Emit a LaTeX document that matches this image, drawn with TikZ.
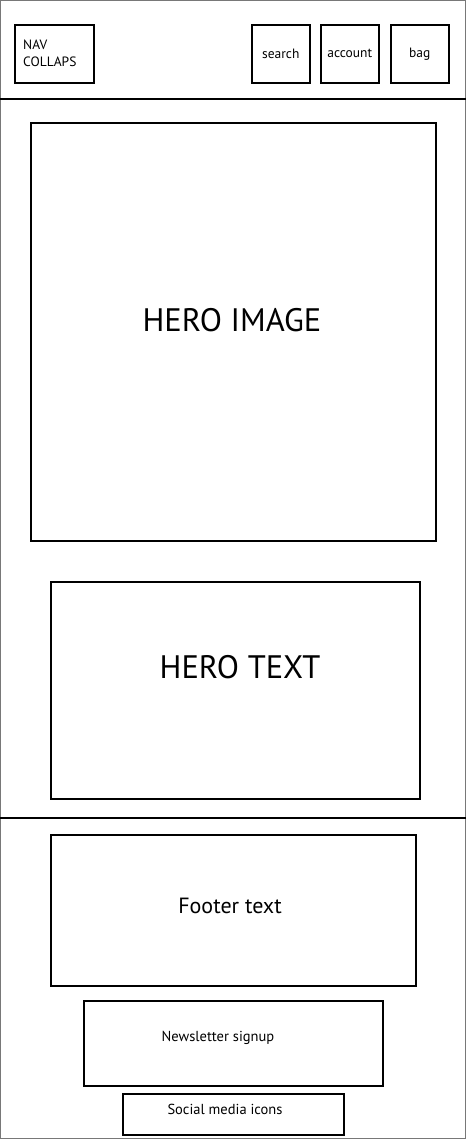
\documentclass[tikz,border=0pt]{standalone}
\usepackage{fontspec}
\setmainfont{PT Sans}
\usepackage{tikz}
\usepackage{xcolor}
\definecolor{framegray}{RGB}{120,120,120}

\begin{document}
\begin{tikzpicture}[
    x=1pt, y=-1pt,
    frame/.style={rectangle, draw=black, line width=1.6pt, anchor=north west, inner sep=0pt},
    divider/.style={line width=1.5pt, black},
    smalltxt/.style={font=\fontsize{13.5}{17}\selectfont, inner sep=0pt},
    bigtxt/.style={font=\fontsize{32.5}{36}\selectfont, inner sep=0pt},
    midtxt/.style={font=\fontsize{22}{26}\selectfont, inner sep=0pt}
]
    \draw[framegray, line width=1pt] (0.5,0.5) rectangle (465.5,1138.5);
    \useasboundingbox (0,0) rectangle (466,1139);

    \coordinate (hdrL) at (0,99);
    \coordinate (hdrR) at (466,99);
    \coordinate (ftrL) at (0,818);
    \coordinate (ftrR) at (466,818);
    \draw[divider] (hdrL) -- (hdrR);
    \draw[divider] (ftrL) -- (ftrR);

    \node[frame, minimum width=79pt, minimum height=58pt] (nav) at (14,24) {};
    \node[smalltxt, align=left, anchor=west] (navlbl) at (23,53.5) {NAV\\COLLAPS};
    \node[frame, minimum width=58pt, minimum height=58pt] (search) at (251,24) {};
    \node[smalltxt] (searchlbl) at (search.center) {search};
    \node[frame, minimum width=58pt, minimum height=58pt] (account) at (320,24) {};
    \node[smalltxt] (accountlbl) at (account.center) {account};
    \node[frame, minimum width=58pt, minimum height=58pt] (bag) at (390,24) {};
    \node[smalltxt] (baglbl) at (bag.center) {bag};

    \node[frame, minimum width=405pt, minimum height=418pt] (heroimg) at (30,122) {};
    \node[bigtxt] (heroimglbl) at (232,320) {HERO IMAGE};
    \node[frame, minimum width=369pt, minimum height=217pt] (herotxt) at (50,581) {};
    \node[bigtxt] (herotxtlbl) at (240,667) {HERO TEXT};

    \node[frame, minimum width=365pt, minimum height=151pt] (footer) at (50,834) {};
    \node[midtxt] (footerlbl) at (230,906) {Footer text};
    \node[frame, minimum width=299pt, minimum height=85pt] (news) at (83,1000) {};
    \node[smalltxt, font=\fontsize{14.5}{17}\selectfont] (newslbl) at (218,1038) {Newsletter signup};
    \node[frame, minimum width=221pt, minimum height=41pt] (social) at (122,1093) {};
    \node[smalltxt, font=\fontsize{14.5}{17}\selectfont] (sociallbl) at (225,1109) {Social media icons};
\end{tikzpicture}
\end{document}
